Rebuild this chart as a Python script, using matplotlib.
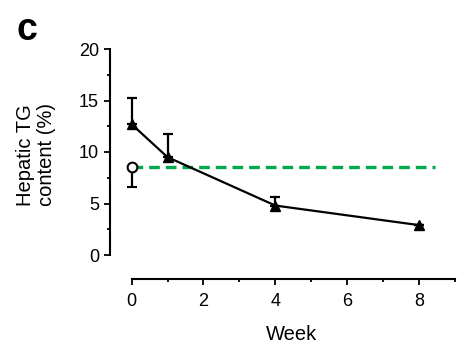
import matplotlib
matplotlib.use("Agg")
import matplotlib.pyplot as plt
from matplotlib.ticker import MultipleLocator

plt.rcParams['font.family'] = ['Liberation Sans', 'DejaVu Sans']

# Data
weeks = [0, 1, 4, 8]
tg_values = [12.7, 9.5, 4.8, 2.9]
tg_err_up = [2.5, 2.2, 0.8, 0.0]

control_week = [0]
control_value = [8.5]
control_err_down = [1.9]

reference_level = 8.5
reference_span = [0, 8.45]

xticks = [0, 2, 4, 6, 8]
yticks = [0, 5, 10, 15, 20]

fig = plt.figure(figsize=(4.71, 3.53), dpi=100)
ax = fig.add_axes([110/471, 98/353, 345/471, 206/353])

green = '#00a84f'
ax.plot(reference_span, [reference_level]*2, color=green, lw=2.4,
        dashes=(3.2, 1.8), zorder=1)

ax.errorbar(weeks, tg_values, yerr=[[0]*len(tg_err_up), tg_err_up],
            color='black', lw=1.6, marker='^', ms=6.5, capsize=3.5,
            elinewidth=1.6, capthick=1.6, zorder=3, clip_on=False)

ax.errorbar(control_week, control_value, yerr=[control_err_down, [0]],
            color='black', fmt='o', mfc='white', mec='black', mew=1.5, ms=7,
            capsize=3.5, elinewidth=1.6, capthick=1.6, zorder=4, clip_on=False)

ax.set_xlim(-0.6, 9.0)
ax.set_ylim(0, 20)
ax.set_xticks(xticks)
ax.set_yticks(yticks)
ax.xaxis.set_minor_locator(MultipleLocator(1))
ax.yaxis.set_minor_locator(MultipleLocator(2.5))

for s in ['top', 'right']:
    ax.spines[s].set_visible(False)
ax.spines['left'].set_bounds(0, 20)
ax.spines['bottom'].set_bounds(0, 9)
ax.spines['bottom'].set_position(('outward', 17.3))
ax.spines['left'].set_linewidth(1.5)
ax.spines['bottom'].set_linewidth(1.5)

ax.tick_params(axis='both', which='major', length=4, width=1.3, labelsize=13,
               direction='out', colors='black')
ax.tick_params(axis='both', which='minor', length=2.5, width=1.3, direction='out')
ax.tick_params(axis='y', pad=4)
ax.tick_params(axis='x', pad=6)

fig.text(292/471, 1 - 335/353, 'Week', fontsize=14.5, ha='center', va='center')
fig.text(36/471, 1 - 155/353, 'Hepatic TG\ncontent (%)', fontsize=14.5,
         rotation=90, ha='center', va='center', multialignment='center',
         linespacing=1.1)
fig.text(16/471, 1 - 12/353, 'c', fontsize=27, fontweight='bold',
         ha='left', va='top')

fig.savefig('out.png', dpi=100)
